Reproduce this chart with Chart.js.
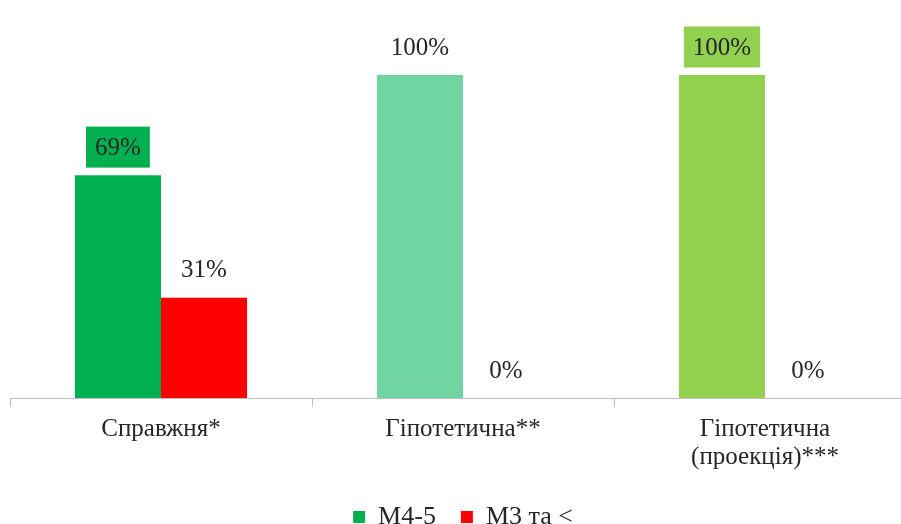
<!DOCTYPE html>
<html>
<head>
<meta charset="utf-8">
<script src="https://cdn.jsdelivr.net/npm/chart.js@4/dist/chart.umd.min.js"></script>
<style>
    html, body { margin: 0; padding: 0; background: #fff; overflow: hidden; }
    #wrap { position: relative; width: 916px; height: 540px; }
</style>
</head>
<body>
<div id="wrap"><canvas id="resultChart"></canvas></div>
<script>
// Категорії та значення (%)
const categories = ['Справжня*', 'Гіпотетична**', ['Гіпотетична', '(проекція)***']];
const seriesNames = ['М4-5', 'М3 та <'];
const valuesM45 = [69, 100, 100];
const valuesM3 = [31, 0, 0];
// підписи з кольоровою плашкою
const boxedM45 = [true, false, true];
const boxedM3 = [false, false, false];

const greenShades = ['#00B050', '#70D5A0', '#92D050'];
const redColor = '#FF0000';
const textColor = '#262626';
const serif = "'Liberation Serif', 'Times New Roman', serif";

// Підписи значень над стовпчиками
const valueLabels = {
    id: 'valueLabels',
    afterDatasetsDraw(chart) {
        const ctx = chart.ctx;
        ctx.save();
        ctx.font = '25px ' + serif;
        ctx.textAlign = 'center';
        ctx.textBaseline = 'middle';
        chart.data.datasets.forEach((ds, di) => {
            const meta = chart.getDatasetMeta(di);
            meta.data.forEach((bar, i) => {
                const text = ds.data[i] + '%';
                const y = bar.y - 28;
                if (ds.boxed[i]) {
                    const w = ctx.measureText(text).width + 18;
                    const h = 41;
                    ctx.fillStyle = Array.isArray(ds.backgroundColor) ? ds.backgroundColor[i] : ds.backgroundColor;
                    ctx.fillRect(bar.x - w / 2, y - h / 2, w, h);
                }
                ctx.fillStyle = textColor;
                ctx.fillText(text, bar.x, y + 1);
            });
        });
        ctx.restore();
    }
};

const ctx = document.getElementById('resultChart');
new Chart(ctx, {
    type: 'bar',
    data: {
        labels: categories,
        datasets: [
            {
                label: seriesNames[0],
                data: valuesM45,
                boxed: boxedM45,
                backgroundColor: greenShades,
                borderWidth: 0
            },
            {
                label: seriesNames[1],
                data: valuesM3,
                boxed: boxedM3,
                backgroundColor: redColor,
                borderWidth: 0
            }
        ]
    },
    options: {
        responsive: true,
        maintainAspectRatio: false,
        animation: false,
        categoryPercentage: 0.57,
        barPercentage: 1,
        layout: {
            padding: { top: 75, left: 10, right: 0, bottom: 0 }
        },
        plugins: {
            tooltip: { enabled: false },
            legend: {
                position: 'bottom',
                labels: {
                    boxWidth: 12,
                    boxHeight: 12,
                    padding: 25,
                    color: textColor,
                    font: { family: serif, size: 26 },
                    generateLabels(chart) {
                        const items = Chart.defaults.plugins.legend.labels.generateLabels(chart);
                        items[0].fillStyle = greenShades[0];
                        items.forEach(item => { item.lineWidth = 0; item.strokeStyle = 'rgba(0,0,0,0)'; });
                        return items;
                    }
                }
            }
        },
        scales: {
            x: {
                grid: {
                    drawOnChartArea: false,
                    drawTicks: true,
                    tickLength: 9,
                    color: '#BFBFBF',
                    offset: true
                },
                border: { color: '#BFBFBF', width: 1 },
                ticks: {
                    color: textColor,
                    padding: 8,
                    maxRotation: 0,
                    font: { family: serif, size: 25, lineHeight: 1.12 }
                }
            },
            y: {
                display: false,
                min: 0,
                max: 100
            }
        }
    },
    plugins: [valueLabels]
});
</script>
</body>
</html>
